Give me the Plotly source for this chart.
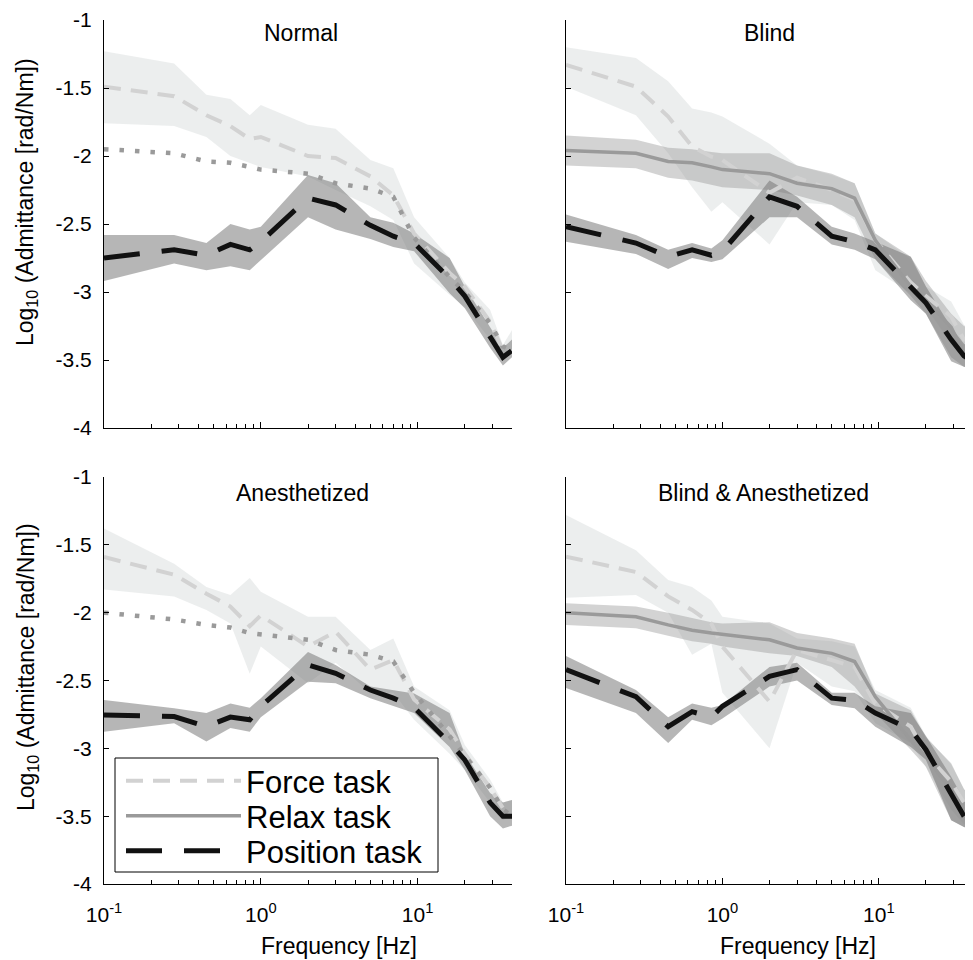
import math
import plotly.graph_objects as go

# ---------------- data ----------------
freq = [0.1, 0.28, 0.45, 0.64, 0.85, 1.0, 2.0, 3.0, 5.0, 7.0, 9.5, 16, 20, 29, 35, 40]

panel_titles = ["Normal", "Blind", "Anesthetized", "Blind & Anesthetized"]
legend_names = ["Force task", "Relax task", "Position task"]

x_tick_vals = [0.1, 1, 10]
x_tick_text = ["10<sup>-1</sup>", "10<sup>0</sup>", "10<sup>1</sup>"]
x_minor_vals = [0.2, 0.3, 0.4, 0.5, 0.6, 0.7, 0.8, 0.9,
                2, 3, 4, 5, 6, 7, 8, 9, 20, 30, 40]
y_tick_vals = [-4, -3.5, -3, -2.5, -2, -1.5, -1]
y_tick_text = ["-4", "-3.5", "-3", "-2.5", "-2", "-1.5", "-1"]

# Normal
force_N = [-1.49, -1.56, -1.70, -1.78, -1.875, -1.86, -2.0, -2.015, -2.15, -2.29, -2.57, -2.86, -2.96, -3.22, -3.43, -3.44]
force_hi_N = [-1.23, -1.32, -1.55, -1.58, -1.70, -1.625, -1.77, -1.80, -2.03, -2.09, -2.45, -2.75, -2.93, -3.13, -3.39, -3.28]
force_lo_N = [-1.76, -1.78, -1.86, -2.0, -2.05, -2.08, -2.15, -2.25, -2.37, -2.47, -2.79, -3.02, -3.11, -3.35, -3.48, -3.45]
relax_ref_N = [-1.95, -1.98, -2.04, -2.05, -2.08, -2.10, -2.13, -2.20, -2.24, -2.30, -2.60, -2.89, -3.0, -3.23, -3.40, -3.43]
pos_N = [-2.75, -2.69, -2.73, -2.65, -2.69, -2.63, -2.31, -2.36, -2.51, -2.59, -2.64, -2.90, -3.03, -3.33, -3.48, -3.43]
pos_hi_N = [-2.58, -2.58, -2.64, -2.50, -2.54, -2.52, -2.14, -2.20, -2.45, -2.49, -2.57, -2.75, -2.96, -3.255, -3.41, -3.35]
pos_lo_N = [-2.92, -2.79, -2.84, -2.81, -2.84, -2.76, -2.45, -2.54, -2.61, -2.67, -2.70, -3.01, -3.12, -3.41, -3.54, -3.48]

# Blind
force_B = [-1.33, -1.49, -1.71, -1.93, -2.005, -2.03, -2.27, -2.16, -2.25, -2.32, -2.62, -2.93, -3.03, -3.18, -3.35, -3.35]
force_hi_B = [-1.20, -1.28, -1.45, -1.65, -1.68, -1.71, -1.91, -2.07, -2.14, -2.20, -2.57, -2.76, -2.96, -3.07, -3.24, -3.30]
force_lo_B = [-1.49, -1.70, -1.98, -2.23, -2.41, -2.34, -2.65, -2.34, -2.36, -2.47, -2.84, -3.01, -3.11, -3.38, -3.48, -3.45]
relax_B = [-1.96, -1.98, -2.04, -2.05, -2.08, -2.10, -2.13, -2.20, -2.24, -2.31, -2.62, -2.96, -3.06, -3.26, -3.45, -3.50]
relax_hi_B = [-1.85, -1.88, -1.94, -1.95, -1.97, -1.98, -1.98, -2.07, -2.13, -2.20, -2.57, -2.74, -2.92, -3.16, -3.25, -3.28]
relax_lo_B = [-2.07, -2.09, -2.16, -2.18, -2.21, -2.23, -2.25, -2.29, -2.36, -2.45, -2.76, -3.03, -3.16, -3.48, -3.55, -3.57]
pos_B = [-2.52, -2.64, -2.74, -2.69, -2.73, -2.70, -2.30, -2.37, -2.59, -2.63, -2.69, -2.96, -3.08, -3.35, -3.47, -3.51]
pos_hi_B = [-2.43, -2.58, -2.69, -2.64, -2.68, -2.62, -2.18, -2.30, -2.52, -2.57, -2.63, -2.74, -2.96, -3.26, -3.38, -3.43]
pos_lo_B = [-2.63, -2.72, -2.83, -2.75, -2.78, -2.76, -2.45, -2.45, -2.65, -2.69, -2.76, -3.06, -3.16, -3.51, -3.55, -3.57]

# Anesthetized
force_A = [-1.59, -1.72, -1.86, -1.955, -2.10, -2.02, -2.25, -2.14, -2.42, -2.35, -2.64, -2.86, -3.04, -3.29, -3.44, -3.43]
force_hi_A = [-1.38, -1.64, -1.81, -1.87, -1.745, -1.845, -2.03, -2.03, -2.275, -2.19, -2.545, -2.72, -2.975, -3.23, -3.40, -3.38]
force_lo_A = [-1.83, -1.88, -1.98, -2.08, -2.45, -2.25, -2.52, -2.37, -2.59, -2.59, -2.79, -3.04, -3.16, -3.40, -3.53, -3.50]
relax_ref_A = [-2.0, -2.05, -2.09, -2.11, -2.15, -2.16, -2.20, -2.275, -2.31, -2.36, -2.59, -2.91, -3.05, -3.29, -3.45, -3.50]
pos_A = [-2.754, -2.766, -2.84, -2.77, -2.79, -2.69, -2.385, -2.447, -2.57, -2.63, -2.70, -2.96, -3.085, -3.40, -3.50, -3.50]
pos_hi_A = [-2.643, -2.705, -2.74, -2.67, -2.70, -2.63, -2.29, -2.385, -2.545, -2.57, -2.595, -2.74, -3.04, -3.33, -3.40, -3.38]
pos_lo_A = [-2.877, -2.815, -2.95, -2.85, -2.877, -2.77, -2.51, -2.52, -2.63, -2.69, -2.74, -2.99, -3.16, -3.50, -3.59, -3.57]

# Blind & Anesthetized
force_BA = [-1.587, -1.70, -1.88, -1.98, -2.08, -2.25, -2.656, -2.275, -2.35, -2.40, -2.67, -2.84, -3.04, -3.245, -3.40, -3.45]
force_hi_BA = [-1.28, -1.54, -1.76, -1.81, -1.91, -2.03, -2.08, -2.19, -2.21, -2.25, -2.57, -2.70, -2.91, -3.12, -3.30, -3.38]
force_lo_BA = [-1.89, -1.87, -2.0, -2.31, -2.23, -2.59, -3.0, -2.37, -2.545, -2.58, -2.815, -2.96, -3.135, -3.45, -3.56, -3.55]
relax_BA = [-2.0, -2.03, -2.09, -2.13, -2.15, -2.16, -2.20, -2.26, -2.30, -2.36, -2.62, -2.94, -3.06, -3.31, -3.45, -3.52]
relax_hi_BA = [-1.93, -1.955, -2.0, -2.04, -2.07, -2.08, -2.07, -2.15, -2.19, -2.23, -2.595, -2.72, -2.92, -3.11, -3.30, -3.38]
relax_lo_BA = [-2.09, -2.115, -2.17, -2.21, -2.23, -2.25, -2.30, -2.32, -2.40, -2.545, -2.74, -3.01, -3.135, -3.53, -3.58, -3.60]
pos_BA = [-2.42, -2.62, -2.84, -2.73, -2.77, -2.69, -2.47, -2.42, -2.63, -2.645, -2.74, -2.86, -3.01, -3.33, -3.50, -3.59]
pos_hi_BA = [-2.32, -2.57, -2.77, -2.67, -2.70, -2.68, -2.40, -2.37, -2.59, -2.59, -2.69, -2.74, -2.91, -3.21, -3.38, -3.45]
pos_lo_BA = [-2.555, -2.74, -2.96, -2.79, -2.83, -2.78, -2.545, -2.50, -2.68, -2.705, -2.84, -2.99, -3.085, -3.53, -3.58, -3.60]

panels = [
    dict(force=force_N, force_hi=force_hi_N, force_lo=force_lo_N, relax=None,
         relax_ref=relax_ref_N, pos=pos_N, pos_hi=pos_hi_N, pos_lo=pos_lo_N),
    dict(force=force_B, force_hi=force_hi_B, force_lo=force_lo_B, relax=relax_B,
         relax_hi=relax_hi_B, relax_lo=relax_lo_B, pos=pos_B, pos_hi=pos_hi_B, pos_lo=pos_lo_B),
    dict(force=force_A, force_hi=force_hi_A, force_lo=force_lo_A, relax=None,
         relax_ref=relax_ref_A, pos=pos_A, pos_hi=pos_hi_A, pos_lo=pos_lo_A),
    dict(force=force_BA, force_hi=force_hi_BA, force_lo=force_lo_BA, relax=relax_BA,
         relax_hi=relax_hi_BA, relax_lo=relax_lo_BA, pos=pos_BA, pos_hi=pos_hi_BA, pos_lo=pos_lo_BA),
]

# ---------------- style / layout ----------------
# the page body has an 8px margin, so the figure starts at (8, 8) in the window
OFF = 8
W, H = 973 - OFF, 960 - OFF


def fx(px):
    return (px - OFF) / W


def fy(py):
    return 1 - (py - OFF) / H


FONT = "Liberation Sans, Arial, Helvetica, sans-serif"
FORCE_BAND = "rgba(205,210,210,0.38)"
RELAX_BAND = "rgba(150,150,150,0.42)"
POS_BAND = "rgba(115,115,115,0.52)"
FORCE_LINE = dict(color="#d2d2d2", width=4, dash="17px,10px")
RELAX_LINE = dict(color="#9a9a9a", width=3.5)
DOT_LINE = dict(color="#9a9a9a", width=4.5, dash="4.5px,11px")
POS_LINE = dict(color="#111111", width=5, dash="36px,22px")

x_dom = [[fx(104), fx(512)], [fx(566), 1.0]]
y_dom = [[fy(428), fy(20)], [fy(884), fy(477)]]

fig = go.Figure()


def band(x, hi, lo, color, ax):
    return go.Scatter(x=list(x) + list(x)[::-1], y=list(hi) + list(lo)[::-1],
                      fill="toself", fillcolor=color, mode="lines",
                      line=dict(width=0), hoverinfo="skip", showlegend=False,
                      xaxis="x" + ax, yaxis="y" + ax)


for i, p in enumerate(panels):
    ax = "" if i == 0 else str(i + 1)
    fig.add_trace(band(freq, p["force_hi"], p["force_lo"], FORCE_BAND, ax))
    if p["relax"] is not None:
        fig.add_trace(band(freq, p["relax_hi"], p["relax_lo"], RELAX_BAND, ax))
    fig.add_trace(band(freq, p["pos_hi"], p["pos_lo"], POS_BAND, ax))
    fig.add_trace(go.Scatter(x=freq, y=p["force"], mode="lines", line=FORCE_LINE,
                             name=legend_names[0], legend="legend",
                             showlegend=(i == 0), xaxis="x" + ax, yaxis="y" + ax))
    if p["relax"] is not None:
        fig.add_trace(go.Scatter(x=freq, y=p["relax"], mode="lines", line=RELAX_LINE,
                                 name=legend_names[1], legend="legend2",
                                 showlegend=(i == 1), xaxis="x" + ax, yaxis="y" + ax))
    else:
        fig.add_trace(go.Scatter(x=freq, y=p["relax_ref"], mode="lines", line=DOT_LINE,
                                 name=legend_names[1], showlegend=False,
                                 xaxis="x" + ax, yaxis="y" + ax))
    fig.add_trace(go.Scatter(x=freq, y=p["pos"], mode="lines", line=POS_LINE,
                             name=legend_names[2], legend="legend3",
                             showlegend=(i == 0), xaxis="x" + ax, yaxis="y" + ax))


def legend_row(ypx):
    return dict(x=fx(121), y=fy(ypx), xanchor="left", yanchor="middle",
                bgcolor="rgba(0,0,0,0)", borderwidth=0,
                font=dict(size=31, family=FONT, color="black"),
                itemwidth=115)


layout = dict(
    width=W, height=H, margin=dict(l=0, r=0, t=0, b=0, autoexpand=False),
    paper_bgcolor="white", plot_bgcolor="white",
    font=dict(family=FONT, color="black", size=21),
    showlegend=True,
    legend=legend_row(781), legend2=legend_row(816), legend3=legend_row(851),
    shapes=[dict(type="rect", xref="paper", yref="paper",
                 x0=fx(115), x1=fx(438), y0=fy(872), y1=fy(758),
                 line=dict(color="black", width=1), fillcolor="white",
                 layer="below")],
)

for i in range(4):
    col, row = i % 2, i // 2
    sfx = "" if i == 0 else str(i + 1)
    layout["xaxis" + sfx] = dict(
        type="log", domain=x_dom[col], range=[-1, math.log10(40)],
        anchor="y" + sfx, showline=True, linecolor="black", linewidth=1,
        showgrid=False, zeroline=False, ticks="inside", ticklen=6,
        tickcolor="black", tickvals=x_tick_vals, ticktext=x_tick_text,
        showticklabels=(row == 1), ticklabelstandoff=12,
        tickfont=dict(size=21),
        minor=dict(tickvals=x_minor_vals, ticks="inside", ticklen=4,
                   tickcolor="black", showgrid=False),
    )
    layout["yaxis" + sfx] = dict(
        domain=y_dom[row], range=[-4, -1], anchor="x" + sfx,
        showline=True, linecolor="black", linewidth=1, showgrid=False,
        zeroline=False, ticks="inside", ticklen=5, tickcolor="black",
        tickvals=y_tick_vals, ticktext=y_tick_text,
        showticklabels=(col == 0), ticklabelstandoff=7, tickfont=dict(size=21),
    )

annotations = []
title_pos = [(301, 33), (769, 33), (302, 493), (763, 493)]
for t, (tx, ty) in zip(panel_titles, title_pos):
    annotations.append(dict(text=t, x=fx(tx), y=fy(ty), xref="paper", yref="paper",
                            showarrow=False, xanchor="center", yanchor="middle",
                            font=dict(size=23, family=FONT, color="black")))
for tx in (339, 798):
    annotations.append(dict(text="Frequency [Hz]", x=fx(tx), y=fy(946),
                            xref="paper", yref="paper", showarrow=False,
                            xanchor="center", yanchor="middle",
                            font=dict(size=23, family=FONT, color="black")))
for ty in (202, 667):
    annotations.append(dict(text="Log<sub>10</sub> (Admittance [rad/Nm])",
                            x=fx(27), y=fy(ty), xref="paper", yref="paper",
                            showarrow=False, textangle=-90, xanchor="center",
                            yanchor="middle",
                            font=dict(size=23, family=FONT, color="black")))
layout["annotations"] = annotations

fig.update_layout(**layout)
fig.write_html("out.html")
